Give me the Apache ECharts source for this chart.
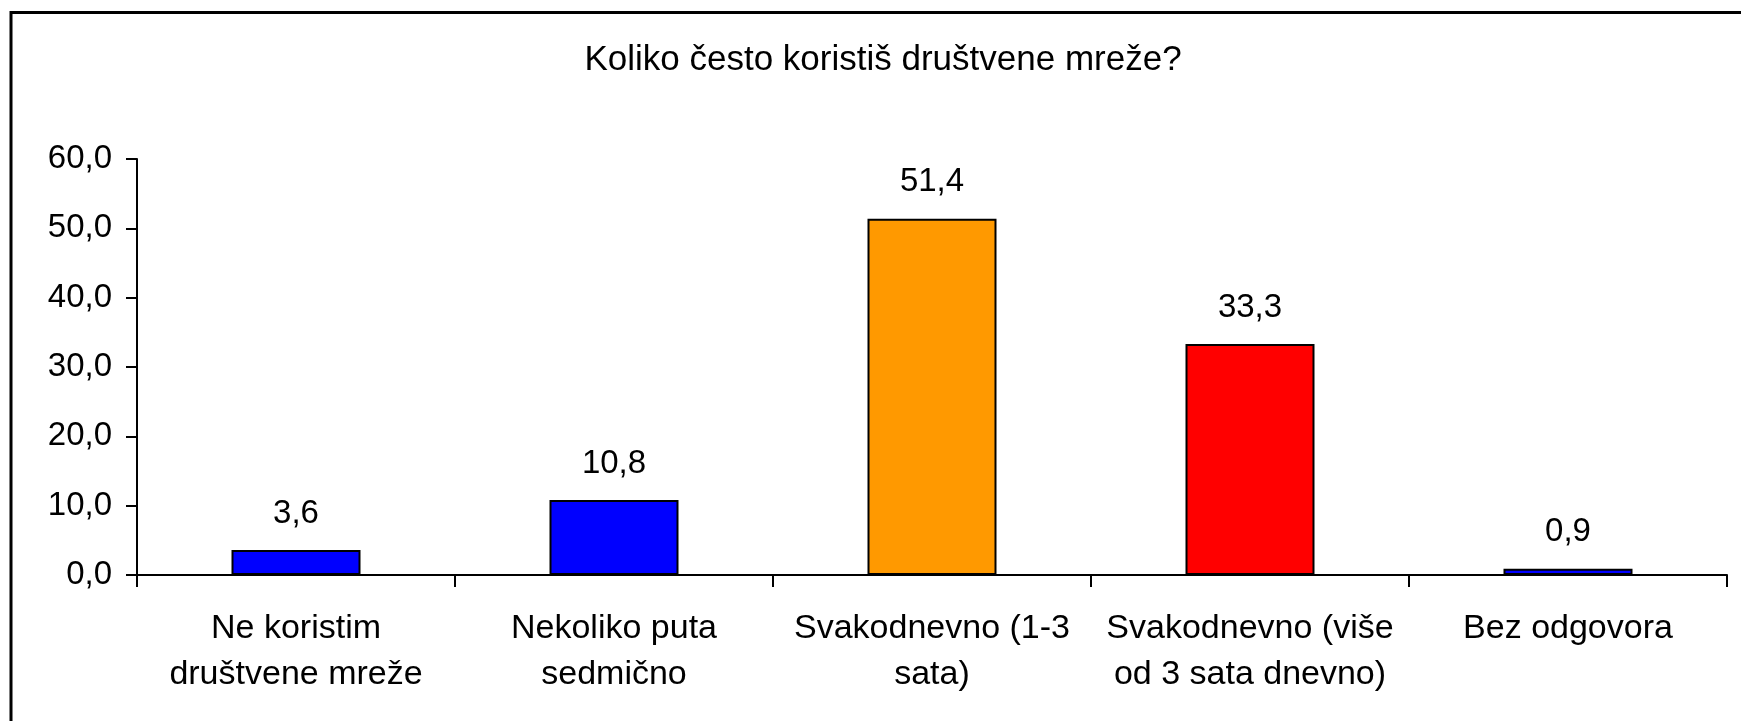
<!DOCTYPE html>
<html>
<head>
<meta charset="utf-8">
<script src="https://cdn.jsdelivr.net/npm/echarts@6/dist/echarts.min.js"></script>
<style>
html,body{margin:0;padding:0;background:#fff;}
#chart{width:1741px;height:721px;}
</style>
</head>
<body>
<div id="chart"></div>
<script>
const titleText = 'Koliko često koristiš društvene mreže?';
const categories = [
  'Ne koristim\ndruštvene mreže',
  'Nekoliko puta\nsedmično',
  'Svakodnevno (1-3\nsata)',
  'Svakodnevno (više\nod 3 sata dnevno)',
  'Bez odgovora'
];
const values = [3.6, 10.8, 51.4, 33.3, 0.9];
const barColors = ['#0000FF', '#0000FF', '#FF9900', '#FF0000', '#0000FF'];
const yMin = 0, yMax = 60, yStep = 10;

const fmt = v => v.toFixed(1).replace('.', ',');
const FONT = 'Liberation Sans, Arial, sans-serif';

const chart = echarts.init(document.getElementById('chart'), null, {renderer: 'canvas'});
chart.setOption({
  animation: false,
  backgroundColor: '#fff',
  title: {
    text: titleText,
    left: 878,
    top: 38,
    textAlign: 'center',
    textStyle: {fontFamily: FONT, fontSize: 35, fontWeight: 'normal', color: '#000'}
  },
  graphic: [{
    type: 'rect',
    shape: {x: 11, y: 12.5, width: 2000, height: 2000},
    style: {fill: 'none', stroke: '#000', lineWidth: 3},
    silent: true
  }],
  grid: {left: 137, right: 14, top: 159, bottom: 146, containLabel: false},
  xAxis: {
    type: 'category',
    data: categories,
    boundaryGap: true,
    axisLine: {lineStyle: {color: '#000', width: 2}},
    axisTick: {show: true, inside: false, length: 12, lineStyle: {color: '#000', width: 2}},
    axisLabel: {
      interval: 0, margin: 31, color: '#000', fontFamily: FONT, fontSize: 34, lineHeight: 46
    },
    splitLine: {show: false}
  },
  yAxis: {
    type: 'value',
    min: yMin, max: yMax, interval: yStep,
    axisLine: {show: true, lineStyle: {color: '#000', width: 2}},
    axisTick: {show: true, inside: false, length: 11, lineStyle: {color: '#000', width: 2}},
    axisLabel: {margin: 25, color: '#000', fontFamily: FONT, fontSize: 33, formatter: v => fmt(v)},
    splitLine: {show: false}
  },
  series: [{
    type: 'bar',
    data: values.map((v, i) => ({value: v, itemStyle: {color: barColors[i]}})),
    barWidth: 129,
    itemStyle: {borderColor: '#000', borderWidth: 2},
    label: {
      show: true, position: 'top', distance: 20,
      color: '#000', fontFamily: FONT, fontSize: 33,
      formatter: p => fmt(p.value)
    }
  }]
});
</script>
</body>
</html>
